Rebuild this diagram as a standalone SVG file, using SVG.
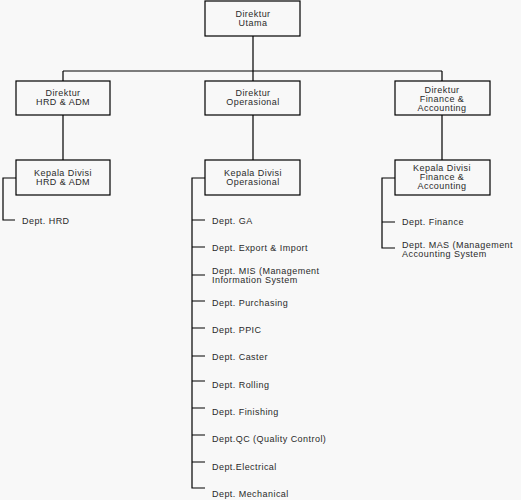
<svg xmlns="http://www.w3.org/2000/svg" width="521" height="500" viewBox="0 0 521 500">
<style>
.box{fill:#f8f8f8;stroke:#000;stroke-width:1.2}
.ln{fill:none;stroke:#000;stroke-width:1.2}
text{font-family:"Liberation Sans",Arial,sans-serif;font-size:9px;fill:#2a2a2a;letter-spacing:0.45px}
.c{text-anchor:middle}
</style>
<rect width="521" height="500" fill="#f8f8f8"/>
<g id="connectors">
<path class="ln" d="M253 36V71M63 71H442M63 71V81M253 71V81M442 71V81"/>
<path class="ln" d="M63 115V160M253 115V160M442 115V160"/>
<path class="ln" d="M16 178H3V220H15"/>
<path class="ln" d="M205 178H192V488H205M192 220H205M192 247H205M192 275H205M192 301H205M192 328H205M192 356H205M192 381H205M192 408H205M192 435H205M192 462H205"/>
<path class="ln" d="M395 178H382V248H395M382 222H395"/>
</g>
<g id="direktur-utama"><rect class="box" x="205" y="1" width="95" height="35"/><text class="c" x="253" y="17">Direktur</text><text class="c" x="253" y="26">Utama</text></g>
<g id="direktur-hrd"><rect class="box" x="16" y="81" width="94" height="34"/><text class="c" x="63" y="96">Direktur</text><text class="c" x="63" y="105">HRD &amp; ADM</text></g>
<g id="direktur-ops"><rect class="box" x="205" y="81" width="95" height="34"/><text class="c" x="253" y="96">Direktur</text><text class="c" x="253" y="105">Operasional</text></g>
<g id="direktur-fin"><rect class="box" x="395" y="81" width="95" height="34"/><text class="c" x="442" y="92.5">Direktur</text><text class="c" x="442" y="101.5">Finance &amp;</text><text class="c" x="442" y="110.5">Accounting</text></g>
<g id="kadiv-hrd"><rect class="box" x="16" y="160" width="94" height="35"/><text class="c" x="63" y="175.5">Kepala Divisi</text><text class="c" x="63" y="184.5">HRD &amp; ADM</text></g>
<g id="kadiv-ops"><rect class="box" x="205" y="160" width="95" height="35"/><text class="c" x="253" y="175.5">Kepala Divisi</text><text class="c" x="253" y="184.5">Operasional</text></g>
<g id="kadiv-fin"><rect class="box" x="395" y="160" width="95" height="35"/><text class="c" x="442" y="170.5">Kepala Divisi</text><text class="c" x="442" y="179.5">Finance &amp;</text><text class="c" x="442" y="188.5">Accounting</text></g>
<g id="dept-hrd"><text x="22" y="224">Dept. HRD</text></g>
<g id="dept-ga"><text x="212" y="224">Dept. GA</text></g>
<g id="dept-exim"><text x="212" y="250.5">Dept. Export &amp; Import</text></g>
<g id="dept-mis"><text x="212" y="273.5">Dept. MIS (Management</text><text x="212" y="282.5">Information System</text></g>
<g id="dept-purchasing"><text x="212" y="305.5">Dept. Purchasing</text></g>
<g id="dept-ppic"><text x="212" y="332.5">Dept. PPIC</text></g>
<g id="dept-caster"><text x="212" y="359.5">Dept. Caster</text></g>
<g id="dept-rolling"><text x="212" y="387.5">Dept. Rolling</text></g>
<g id="dept-finishing"><text x="212" y="414.5">Dept. Finishing</text></g>
<g id="dept-qc"><text x="212" y="441.5">Dept.QC (Quality Control)</text></g>
<g id="dept-electrical"><text x="212" y="469.5">Dept.Electrical</text></g>
<g id="dept-mechanical"><text x="212" y="496.5">Dept. Mechanical</text></g>
<g id="dept-finance"><text x="402" y="225">Dept. Finance</text></g>
<g id="dept-mas"><text x="402" y="247.5">Dept. MAS (Management</text><text x="402" y="256.5">Accounting System</text></g>
</svg>
